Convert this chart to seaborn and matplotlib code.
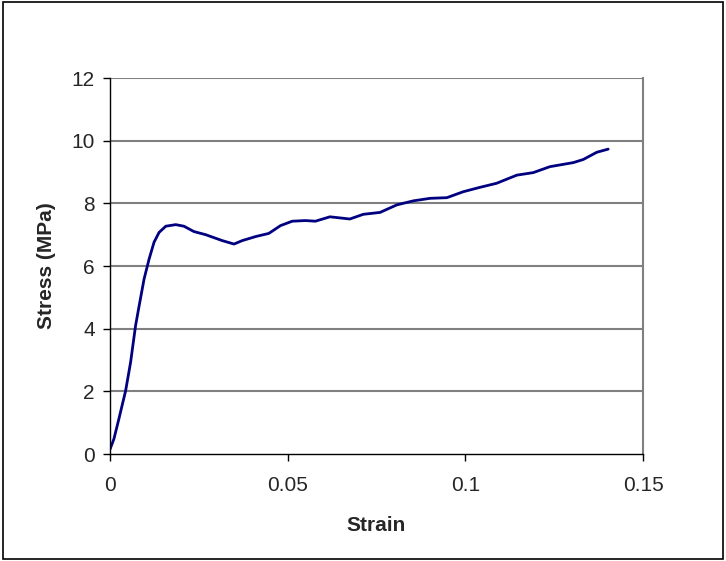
import matplotlib
matplotlib.use("Agg")
import matplotlib.pyplot as plt
import seaborn as sns
import pandas as pd
from matplotlib.patches import Rectangle

strain = [0.0, 0.0011, 0.0025, 0.0044, 0.0058, 0.0072, 0.0082, 0.0096, 0.0110, 0.0124,
          0.0138, 0.0157, 0.0185, 0.0208, 0.0236, 0.0269, 0.0316, 0.0349, 0.0372, 0.0410,
          0.0447, 0.0480, 0.0513, 0.0550, 0.0578, 0.0619, 0.0675, 0.0713, 0.0760, 0.0807,
          0.0854, 0.0901, 0.0948, 0.0994, 0.1041, 0.1088, 0.1145, 0.1191, 0.1238, 0.1304,
          0.1332, 0.1370, 0.1402]
stress = [0.15, 0.48, 1.12, 2.02, 2.93, 4.10, 4.73, 5.59, 6.22, 6.76,
          7.07, 7.27, 7.32, 7.27, 7.10, 7.00, 6.81, 6.70, 6.81, 6.94,
          7.04, 7.29, 7.43, 7.45, 7.43, 7.57, 7.50, 7.65, 7.71, 7.95,
          8.08, 8.16, 8.18, 8.37, 8.51, 8.64, 8.90, 8.98, 9.17, 9.30,
          9.40, 9.63, 9.73]
x_ticks = [0, 0.05, 0.1, 0.15]
x_tick_labels = ["0", "0.05", "0.1", "0.15"]
y_ticks = [0, 2, 4, 6, 8, 10, 12]

sns.set_style("white")
plt.rcParams["font.family"] = ["Liberation Sans", "DejaVu Sans"]

fig = plt.figure(figsize=(7.26, 5.61), dpi=100)
ax = fig.add_axes([110/726, 1-454/561, (643-110)/726, (454-78)/561])

df = pd.DataFrame({"Strain": strain, "Stress": stress})
sns.lineplot(data=df, x="Strain", y="Stress", ax=ax, color="#000080",
             linewidth=2.0, sort=False, estimator=None)

ax.set_xlim(0, 0.15)
ax.set_ylim(0, 12)
ax.set_xticks(x_ticks)
ax.set_xticklabels(x_tick_labels)
ax.set_yticks(y_ticks)
for y in y_ticks[1:]:
    ax.axhline(y, color="#808080", lw=1.5, zorder=0)

for s in ["left", "bottom"]:
    ax.spines[s].set_color("black")
    ax.spines[s].set_linewidth(1.0)
ax.spines["top"].set_visible(False)
ax.spines["right"].set_color("#808080")
ax.spines["right"].set_linewidth(1.5)

ax.tick_params(axis="both", which="major", direction="out", length=5, width=1,
               color="black", labelsize=15, bottom=True, left=True)
ax.tick_params(axis="y", pad=6)
ax.tick_params(axis="x", pad=11)

ax.set_xlabel("Strain", fontsize=15, fontweight="bold", labelpad=15)
ax.set_ylabel("Stress (MPa)", fontsize=15, fontweight="bold", labelpad=11)

fig.patches.append(Rectangle((3/726, 1-559/561), 720/726, 557/561,
                             transform=fig.transFigure, fill=False,
                             edgecolor="black", linewidth=1.2))

fig.savefig("out.png", dpi=100)
